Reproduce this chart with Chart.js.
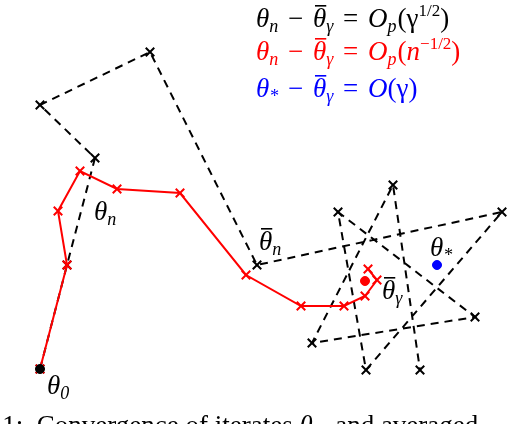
<!DOCTYPE html>
<html>
<head>
<meta charset="utf-8">
<script src="https://cdn.jsdelivr.net/npm/chart.js@4"></script>
<style>
  html, body { margin: 0; padding: 0; background: #fff; }
  #wrap { width: 528px; height: 424px; }
</style>
</head>
<body>
<div id="wrap"><canvas id="chart"></canvas></div>
<script>
// iterates (pixel-like coordinates of the figure, y grows downward)
const iterX = [40, 67, 95, 40, 150, 257, 502, 366, 338, 475, 312, 393, 420];
const iterY = [369, 265, 158, 105, 52, 265, 212, 370, 212, 317, 343, 185, 370];
// averaged iterates
const avgX = [40, 67, 58, 80, 117, 180, 246, 301, 344, 365, 377, 368];
const avgY = [369, 265, 211, 171, 189, 193, 275, 306, 306, 296, 280, 269];
const thetaBarGamma = [365, 281];
const thetaStar = [437, 265];

const toPts = (xs, ys) => xs.map((x, i) => ({ x, y: ys[i] }));

const labels = {
  id: 'labels',
  afterDatasetsDraw(chart) {
    const ctx = chart.ctx;
    const sx = chart.scales.x, sy = chart.scales.y;
    const P = (x, y) => [sx.getPixelForValue(x), sy.getPixelForValue(y)];
    ctx.save();
    ctx.textBaseline = 'alphabetic';
    const it = 'italic 27px "Liberation Serif"';
    const rm = '27px "Liberation Serif"';
    const sub = 'italic 18px "Liberation Serif"';
    const sup = '17px "Liberation Serif"';
    // parts: [text, font, dy, bar, gap]
    function run(parts, x, y, color) {
      ctx.fillStyle = color;
      for (const [t, f, dy, bar, gap] of parts) {
        ctx.font = f;
        const w = ctx.measureText(t).width;
        ctx.fillText(t, x, y + (dy || 0));
        if (bar) ctx.fillRect(x + 2, y - 22, w - 2, 1.6);
        x += w + (gap || 0);
      }
    }
    const eq = (a, b, c, d) => [['θ', it], [a, sub, 5, 0, 3], [' − ', rm, 0, 0, 3], ['θ', it, 0, 1], ['γ', sub, 5, 0, 3], [' = ', rm, 0, 0, 3]].concat(b);
    let [x, y] = P(256, 27);
    run(eq('n', [['O', it], ['p', sub, 5, 0, 1], ['(γ', rm], ['1/2', sup, -11], [')', rm]]), x, y, '#000');
    [x, y] = P(256, 60);
    run(eq('n', [['O', it], ['p', sub, 5, 0, 1], ['(', rm], ['n', it], ['−1/2', sup, -11], [')', rm]]), x, y, '#f00');
    [x, y] = P(256, 97);
    run(eq('*', [['O', it], ['(γ)', rm]]), x, y, '#00f');
    [x, y] = P(94, 220);
    run([['θ', it], ['n', sub, 5]], x, y, '#000');
    [x, y] = P(259, 250);
    run([['θ', it, 0, 1], ['n', sub, 5]], x, y, '#000');
    [x, y] = P(382, 299);
    run([['θ', it, 0, 1], ['γ', sub, 5]], x, y, '#000');
    [x, y] = P(430, 256);
    run([['θ', it], ['*', sub, 5]], x, y, '#000');
    [x, y] = P(47, 394);
    run([['θ', it], ['0', sub, 5]], x, y, '#000');
    run([['Figure 1:  Convergence of iterates ', rm], ['θ', it], ['n', sub, 5], ['  and averaged', rm]], -75, 434, '#000');
    ctx.restore();
  }
};

new Chart(document.getElementById('chart'), {
  type: 'scatter',
  data: {
    datasets: [
      {
        data: toPts(iterX, iterY), showLine: true, borderColor: '#000', borderWidth: 2,
        borderDash: [8, 6], pointStyle: 'crossRot', pointRadius: 6, pointBorderColor: '#000',
        pointBorderWidth: 2, order: 2
      },
      {
        data: toPts(avgX, avgY), showLine: true, borderColor: '#f00', borderWidth: 2,
        pointStyle: 'crossRot', pointRadius: 6, pointBorderColor: '#f00', pointBorderWidth: 2, order: 1
      },
      {
        data: [{ x: thetaBarGamma[0], y: thetaBarGamma[1] }], pointStyle: 'circle', pointRadius: 4.5,
        backgroundColor: '#f00', borderColor: '#f00', order: 0
      },
      {
        data: [{ x: thetaStar[0], y: thetaStar[1] }], pointStyle: 'circle', pointRadius: 4.5,
        backgroundColor: '#00f', borderColor: '#00f', order: 0
      },
      {
        data: [{ x: iterX[0], y: iterY[0] }], pointStyle: 'circle', pointRadius: 4.5,
        backgroundColor: '#000', borderColor: '#000', order: 0
      }
    ]
  },
  options: {
    responsive: true, maintainAspectRatio: false, animation: false,
    layout: { padding: 0, autoPadding: false },
    plugins: { legend: { display: false }, tooltip: { enabled: false } },
    scales: {
      x: { type: 'linear', min: 0, max: 528, display: false },
      y: { type: 'linear', min: 0, max: 424, reverse: true, display: false }
    }
  },
  plugins: [labels]
});
</script>
</body>
</html>
